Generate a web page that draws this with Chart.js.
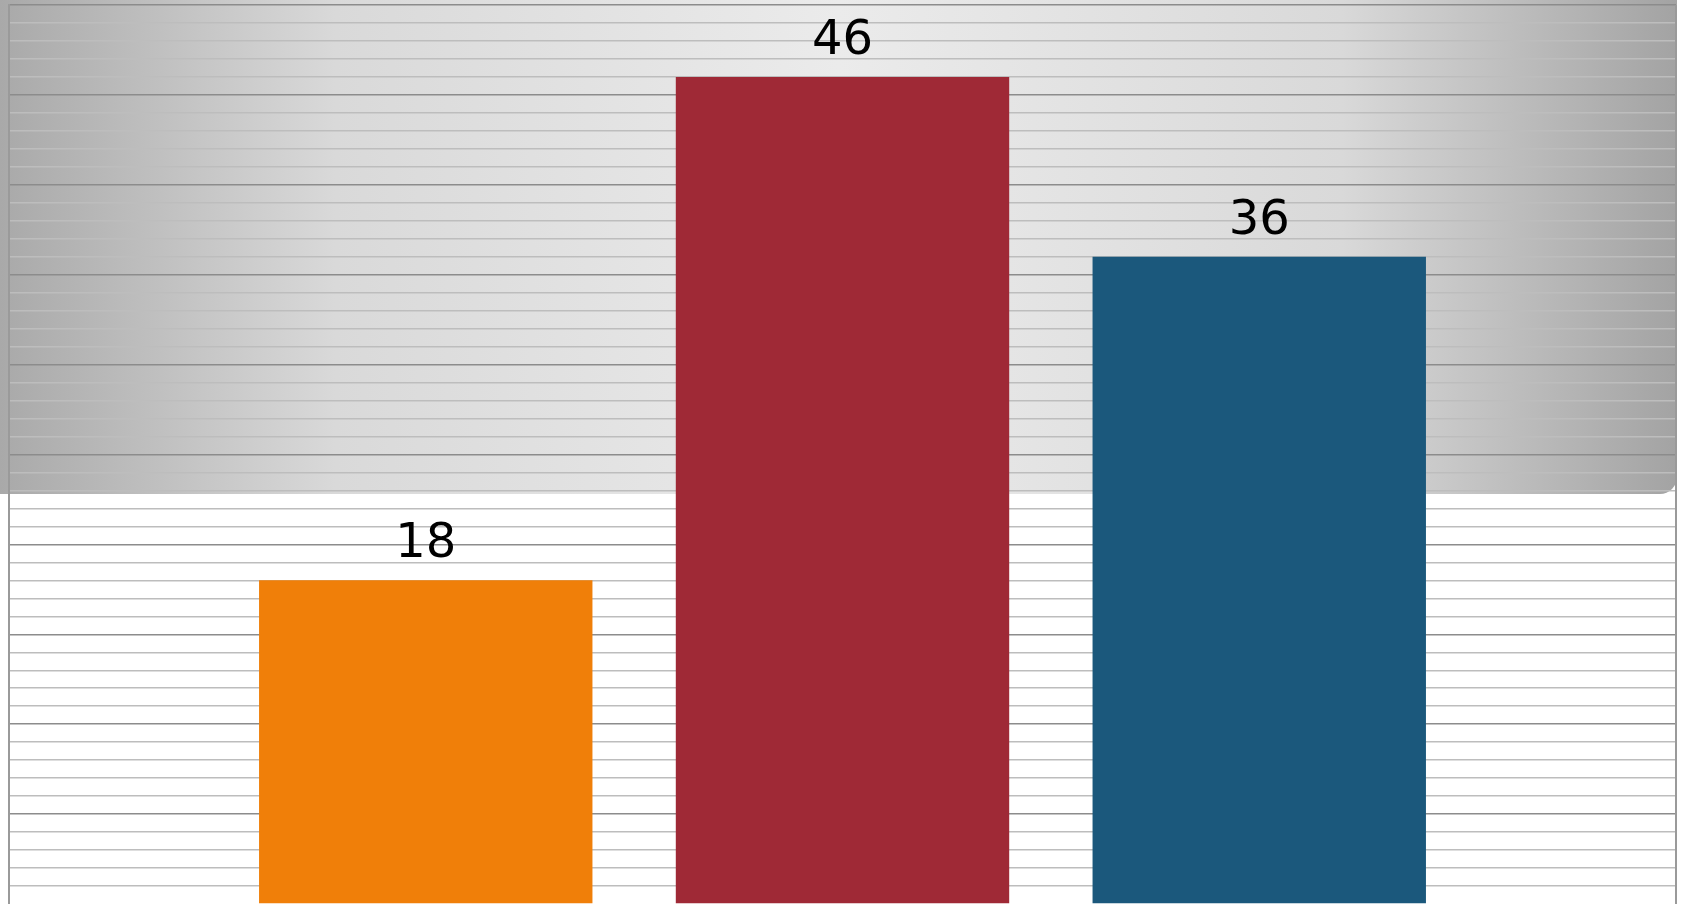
<!DOCTYPE html>
<html>
<head>
<meta charset="utf-8">
<script src="https://cdn.jsdelivr.net/npm/chart.js@4.4.1/dist/chart.umd.min.js"></script>
<style>
  html, body { margin: 0; padding: 0; background: #ffffff; overflow: hidden; }
  canvas { display: block; }
</style>
</head>
<body>
<canvas id="barChart" width="1682" height="904"></canvas>
<script>
// chart values
const categories = ['Group 1', 'Group 2', 'Group 3'];
const values = [18, 46, 36];
const yMin = 0;
const yMax = 50;
const minorStep = 1;
const majorStep = 5;

const barColors = ['#F07F09', '#9F2936', '#1B587C'];

// an empty slot either side keeps the bars on the inner category lines
const labels = [''].concat(categories, ['']);
const barData = [null].concat(values, [null]);
const barFill = ['rgba(0,0,0,0)'].concat(barColors, ['rgba(0,0,0,0)']);

// grey gradient panel behind the upper half of the plot
const panelPlugin = {
  id: 'panel',
  beforeDraw(chart) {
    const ctx = chart.ctx;
    const area = chart.chartArea;
    const w = area.right + 1;
    const h = 494;
    const r = 17;
    ctx.save();
    ctx.fillStyle = '#ffffff';
    ctx.fillRect(0, 0, chart.width, chart.height);
    const g = ctx.createLinearGradient(0, 0, w, 0);
    g.addColorStop(0, '#a9a9a9');
    g.addColorStop(0.2, '#d9d9d9');
    g.addColorStop(0.5, '#ebebeb');
    g.addColorStop(0.8, '#d9d9d9');
    g.addColorStop(1, '#a3a3a3');
    ctx.fillStyle = g;
    ctx.beginPath();
    ctx.moveTo(0, 0);
    ctx.lineTo(w, 0);
    ctx.lineTo(w, h - r);
    ctx.arcTo(w, h, w - r, h, r);
    ctx.lineTo(0, h);
    ctx.closePath();
    ctx.fill();
    ctx.restore();
  },
  afterDraw(chart) {
    const ctx = chart.ctx;
    const area = chart.chartArea;
    ctx.save();
    ctx.strokeStyle = '#9a9a9a';
    ctx.lineWidth = 2;
    ctx.beginPath();
    ctx.moveTo(area.right, area.top);
    ctx.lineTo(area.right, area.bottom);
    ctx.stroke();
    ctx.restore();
  }
};

// value labels above each bar
const valueLabels = {
  id: 'valueLabels',
  afterDatasetsDraw(chart) {
    const ctx = chart.ctx;
    const meta = chart.getDatasetMeta(0);
    ctx.save();
    ctx.font = '48px "DejaVu Sans", Verdana, sans-serif';
    ctx.fillStyle = '#000000';
    ctx.textAlign = 'center';
    ctx.textBaseline = 'alphabetic';
    meta.data.forEach(function (bar, i) {
      const v = chart.data.datasets[0].data[i];
      if (v === null) return;
      ctx.fillText(String(v), bar.x, bar.y - 23);
    });
    ctx.restore();
  }
};

const chartContext = document.getElementById('barChart');
const barChart = new Chart(chartContext, {
  type: 'bar',
  data: {
    labels: labels,
    datasets: [{
      data: barData,
      backgroundColor: barFill,
      borderWidth: 0,
      categoryPercentage: 1,
      barPercentage: 0.8
    }]
  },
  options: {
    responsive: false,
    animation: false,
    layout: { padding: { left: 9, right: 6, top: 5, bottom: 0 } },
    plugins: {
      legend: { display: false },
      tooltip: { enabled: false }
    },
    scales: {
      x: {
        display: false,
        offset: false
      },
      y: {
        min: yMin,
        max: yMax,
        ticks: { display: false, stepSize: minorStep },
        grid: {
          drawTicks: false,
          lineWidth: 1.5,
          color: function (c) {
            // the zero line falls on the lower edge of the picture
            if (c.tick.value === yMin) return 'rgba(0,0,0,0)';
            return c.tick.value % majorStep === 0 ? '#8c8c8c' : '#bdbdbd';
          }
        },
        border: { display: true, color: '#9a9a9a', width: 2 }
      }
    }
  },
  plugins: [panelPlugin, valueLabels]
});
</script>
</body>
</html>
